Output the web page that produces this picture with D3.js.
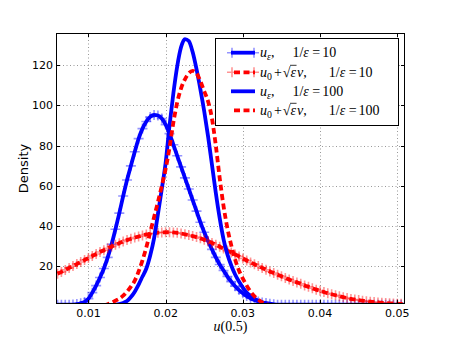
<!DOCTYPE html>
<html><head><meta charset="utf-8">
<script src="https://cdn.jsdelivr.net/npm/d3@7"></script>
<style>body{margin:0;background:#fff}svg{display:block}</style>
</head><body>
<svg id="c" width="450" height="339"></svg>
<script>
// ---- data ----
const xGrid = [0.0060,0.0065,0.0070,0.0075,0.0080,0.0085,0.0090,0.0095,
  0.0100,0.0105,0.0110,0.0115,0.0120,0.0125,0.0130,0.0135,0.0140,0.0145,0.0150,0.0155,0.0160,0.0165,0.0170,0.0175,0.0180,0.0185,0.0190,0.0195,
  0.0200,0.0205,0.0210,0.0215,0.0220,0.0225,0.0230,0.0235,0.0240,0.0245,0.0250,0.0255,0.0260,0.0265,0.0270,0.0275,0.0280,0.0285,0.0290,0.0295,
  0.0300,0.0305,0.0310,0.0315,0.0320,0.0325,0.0330,0.0335,0.0340,0.0345,0.0350,0.0355,0.0360,0.0365,0.0370,0.0375,0.0380,0.0385,0.0390,0.0395,
  0.0400,0.0405,0.0410,0.0415,0.0420,0.0425,0.0430,0.0435,0.0440,0.0445,0.0450,0.0455,0.0460,0.0465,0.0470,0.0475,0.0480,0.0485,0.0490,0.0495,
  0.0500,0.0505,0.0510];
// u_eps, 1/eps = 10
const uEps10 = [1.0,1.0,1.0,1.0,1.1,1.3,1.7,2.4,
  4.0,7.0,10.5,14.5,19.0,24.5,31.0,38.5,46.5,55.0,63.0,70.0,77.0,83.5,88.5,92.0,94.3,95.3,95.0,93.5,
  90.5,86.0,80.5,75.0,69.5,64.0,58.5,53.0,47.5,42.0,37.0,32.5,28.5,24.5,21.0,18.0,15.0,12.5,10.2,8.3,
  6.7,5.3,4.2,3.3,2.6,2.1,1.8,1.5,1.2,1.0,1.0,1.0,1.0,1.0,1.0,1.0,1.0,1.0,1.0,1.0,
  1.0,1.0,1.0,1.0,1.0,1.0,1.0,1.0,1.0,1.0,1.0,1.0,1.0,1.0,1.0,1.0,1.0,1.0,1.0,1.0,
  1.0,1.0,1.0];
// u0 + sqrt(eps) v, 1/eps = 10
const approx10 = [16.4,17.3,18.3,19.3,20.2,21.2,22.2,23.2,
  24.2,25.2,26.2,27.2,28.1,29.0,29.9,30.8,31.6,32.4,33.1,33.8,34.4,34.9,35.4,35.9,36.2,36.5,36.8,36.9,
  37.0,37.0,36.9,36.7,36.4,36.0,35.6,35.1,34.6,34.0,33.3,32.5,31.7,30.8,29.8,28.9,27.9,27.0,26.0,25.0,
  24.0,23.0,22.0,21.1,20.2,19.3,18.4,17.5,16.7,15.9,15.1,14.3,13.5,12.8,12.1,11.4,10.6,9.9,9.2,8.5,
  7.9,7.3,6.7,6.2,5.7,5.2,4.75,4.3,3.9,3.6,3.3,3.0,2.75,2.5,2.3,2.1,1.95,1.8,1.7,1.6,
  1.5,1.45,1.4];
const xFine = [0.0120,0.0125,0.0130,0.0135,0.0140,0.0145,0.0150,0.0155,0.0160,0.0165,0.0170,0.0175,0.0180,0.0185,0.0190,0.0195,
  0.0200,0.0205,0.0210,0.0215,0.0220,0.0225,0.0230,0.0235,0.0240,0.0245,0.0250,0.0255,0.0260,0.0265,0.0270,0.0275,0.0280,0.0285,0.0290,0.0295,
  0.0300,0.0305,0.0310,0.0315,0.0320,0.0325,0.0330,0.0335,0.0340,0.0345,0.0350];
// u_eps, 1/eps = 100
const uEps100 = [0.3,0.4,0.6,0.9,1.3,1.9,2.8,4.8,7.5,11.0,15.0,19.0,25.5,34.0,46.0,58.5,
  71.5,90.0,106.0,119.5,129.0,133.0,132.0,126.5,118.0,108.0,97.0,84.5,70.5,56.5,44.0,33.5,26.0,20.5,16.0,12.5,
  9.5,7.0,5.3,4.0,3.0,2.2,1.6,1.2,0.9,0.6,0.4];
// u0 + sqrt(eps) v, 1/eps = 100
const approx100 = [0.6,1.2,2.0,3.0,4.0,5.5,7.5,10.0,13.0,17.5,23.0,29.5,37.0,44.5,52.0,60.0,
  68.5,79.0,91.5,101.5,108.5,113.0,116.0,117.2,116.0,112.0,107.0,102.0,93.5,80.0,64.0,50.0,39.0,30.5,23.5,18.0,
  14.0,10.5,7.5,5.2,3.5,2.2,1.3,0.8,0.5,0.3,0.2];
const xTicks = [0.01,0.02,0.03,0.04,0.05];
const xTickLabels = ["0.01","0.02","0.03","0.04","0.05"];
const yTicks = [20,40,60,80,100,120];
const yTickLabels = ["20","40","60","80","100","120"];
const xDomain = [0.0058,0.0510];
const yDomain = [1.36,136];

// ---- drawing ----
const svg = d3.select('#c');
const L=56, R=405, T=33, B=304;
const x = d3.scaleLinear().domain(xDomain).range([L,R]);
const y = d3.scaleLinear().domain(yDomain).range([B,T]);
svg.append('rect').attr('width',450).attr('height',339).attr('fill','#fff');

svg.append('defs').append('clipPath').attr('id','clip')
  .append('rect').attr('x',L).attr('y',T).attr('width',R-L).attr('height',B-T);

// grid
const grid = svg.append('g').attr('stroke','#7f7f7f').attr('stroke-width',0.8).attr('stroke-dasharray','1,2.5');
xTicks.forEach(t=>grid.append('line').attr('x1',Math.round(x(t))+0.5).attr('x2',Math.round(x(t))+0.5).attr('y1',T).attr('y2',B));
yTicks.forEach(t=>grid.append('line').attr('y1',Math.round(y(t))+0.5).attr('y2',Math.round(y(t))+0.5).attr('x1',L).attr('x2',R));

const plot = svg.append('g').attr('clip-path','url(#clip)');
const lineGen = (xs)=> d3.line().x((d,i)=>x(xs[i])).y(d=>y(d)).curve(d3.curveMonotoneX);
const plus = (s)=>`M${-s},0H${s}M0,${-s}V${s}`;

function drawSeries(xs, vals, color, dashed, markers){
  plot.append('path').datum(vals).attr('d', lineGen(xs)).attr('fill','none')
    .attr('stroke',color).attr('stroke-width',3.8)
    .attr('stroke-dasharray', dashed ? '6,3.5' : null);
  if(markers){
    plot.append('g').selectAll('path').data(vals).join('path')
      .attr('transform',(d,i)=>`translate(${x(xs[i])},${y(d)})`)
      .attr('d', plus(5)).attr('stroke',color).attr('stroke-opacity',0.42).attr('stroke-width',1.6).attr('fill','none');
  }
}
drawSeries(xGrid, uEps10, '#0000ff', false, true);
drawSeries(xGrid, approx10, '#ff0000', true, true);
drawSeries(xFine, uEps100, '#0000ff', false, false);
drawSeries(xFine, approx100, '#ff0000', true, false);

// frame
svg.append('rect').attr('x',L+0.5).attr('y',T+0.5).attr('width',R-L-1).attr('height',B-T-1)
  .attr('fill','none').attr('stroke','#000').attr('stroke-width',1);

// ticks (inward, all sides)
const tk = svg.append('g').attr('stroke','#000').attr('stroke-width',1);
xTicks.forEach(t=>{const xx=Math.round(x(t))+0.5;
  tk.append('line').attr('x1',xx).attr('x2',xx).attr('y1',B).attr('y2',B-4);
  tk.append('line').attr('x1',xx).attr('x2',xx).attr('y1',T).attr('y2',T+4);});
yTicks.forEach(t=>{const yy=Math.round(y(t))+0.5;
  tk.append('line').attr('y1',yy).attr('y2',yy).attr('x1',L).attr('x2',L+4);
  tk.append('line').attr('y1',yy).attr('y2',yy).attr('x1',R).attr('x2',R-4);});

// tick labels
const sans = 'DejaVu Sans, sans-serif';
svg.append('g').selectAll('text').data(xTicks).join('text')
  .attr('x',d=>x(d)).attr('y',316.5).attr('text-anchor','middle')
  .attr('font-family',sans).attr('font-size',11).text((d,i)=>xTickLabels[i]);
svg.append('g').selectAll('text').data(yTicks).join('text')
  .attr('x',53).attr('y',d=>y(d)).attr('dy','0.36em').attr('text-anchor','end')
  .attr('font-family',sans).attr('font-size',11).text((d,i)=>yTickLabels[i]);

// axis labels
svg.append('text').attr('transform',`translate(28,${(T+B)/2}) rotate(-90)`).attr('text-anchor','middle')
  .attr('font-family',sans).attr('font-size',13).text('Density');
const serif = 'Liberation Serif, DejaVu Serif, serif';
const xl = svg.append('text').attr('x',(L+R)/2).attr('y',331).attr('text-anchor','middle')
  .attr('font-family',serif).attr('font-size',14);
xl.append('tspan').attr('font-style','italic').text('u');
xl.append('tspan').text('(0.5)');

// legend
const lg = svg.append('g');
lg.append('rect').attr('x',215.5).attr('y',38.5).attr('width',183).attr('height',87)
  .attr('fill','#fff').attr('stroke','#000').attr('stroke-width',1);

function layout(g, x0, y0, pieces, fs){
  let cx = x0; const pos=[];
  pieces.forEach(p=>{
    cx += (p.dx||0);
    const size = p.sub ? fs*0.7 : fs;
    const t = g.append('text').attr('x',cx).attr('y', y0 + (p.sub ? fs*0.22 : 0))
      .attr('font-family',serif).attr('font-style',p.it?'italic':'normal')
      .attr('font-size',size).text(p.t);
    const w = t.node().getComputedTextLength();
    pos.push({x0:cx, x1:cx+w});
    cx += w;
  });
  return pos;
}
const rowsY = [52.7, 72.3, 91.3, 110.3];
const labels = [
  {color:'#0000ff', dashed:false, markers:true,
   pieces:[{t:'u',it:1},{t:'ε',it:1,sub:1},{t:','},{t:'1/',dx:18},{t:'ε',it:1},{t:'=',dx:3.5},{t:'10',dx:2}]},
  {color:'#ff0000', dashed:true, markers:true, sqrt:true,
   pieces:[{t:'u',it:1},{t:'0',sub:1},{t:'+',dx:2},{t:'√',dx:1},{t:'ε',it:1},{t:'v',it:1,dx:1},{t:','},{t:'1/',dx:22},{t:'ε',it:1},{t:'=',dx:3.5},{t:'10',dx:2}]},
  {color:'#0000ff', dashed:false, markers:false,
   pieces:[{t:'u',it:1},{t:'ε',it:1,sub:1},{t:','},{t:'1/',dx:18},{t:'ε',it:1},{t:'=',dx:3.5},{t:'100',dx:2}]},
  {color:'#ff0000', dashed:true, markers:false, sqrt:true,
   pieces:[{t:'u',it:1},{t:'0',sub:1},{t:'+',dx:2},{t:'√',dx:1},{t:'ε',it:1},{t:'v',it:1,dx:1},{t:','},{t:'1/',dx:22},{t:'ε',it:1},{t:'=',dx:3.5},{t:'100',dx:2}]}
];
labels.forEach((r,i)=>{
  const yy = rowsY[i];
  lg.append('line').attr('x1',231).attr('x2',255).attr('y1',yy).attr('y2',yy)
    .attr('stroke',r.color).attr('stroke-width',3.8)
    .attr('stroke-dasharray', r.dashed ? '6,3.5' : null).attr('stroke-dashoffset', r.dashed ? -3 : null);
  if(r.markers){
    [232,254].forEach(mx=>lg.append('path').attr('transform',`translate(${mx},${yy})`).attr('d',plus(5))
      .attr('stroke',r.color).attr('stroke-opacity',0.42).attr('stroke-width',1.6));
  }
  const pos = layout(lg, 260, yy+4.5, r.pieces, 14);
  if(r.sqrt){
    const s = pos[3], e = pos[4];
    lg.append('line').attr('x1',s.x1-0.5).attr('x2',e.x1+0.5).attr('y1',yy+4.5-11.5).attr('y2',yy+4.5-11.5)
      .attr('stroke','#000').attr('stroke-width',0.8);
  }
});
</script>
</body></html>
